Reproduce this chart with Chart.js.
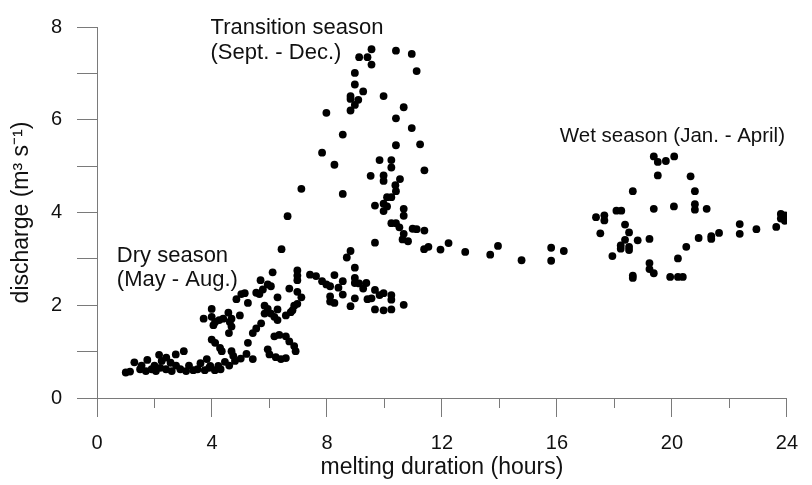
<!DOCTYPE html>
<html>
<head>
<meta charset="utf-8">
<script src="https://cdn.jsdelivr.net/npm/chart.js@4.4.1/dist/chart.umd.min.js"></script>
<style>
  html, body { margin: 0; padding: 0; background: #fff; }
  #box { width: 812px; height: 485px; }
</style>
</head>
<body>
<div id="box"><canvas id="meltChart" width="812" height="485"></canvas></div>
<script>
// Durée de fonte (h) et débit (m3/s)
const dryDuration = [
  1.00, 1.15, 1.30, 1.50, 1.55, 1.70, 1.75, 1.90, 2.00, 2.05, 2.20, 2.25, 2.40, 2.60, 2.75,
  2.90, 3.10, 3.20, 3.35, 3.50, 3.60, 3.75, 3.90, 4.10, 4.30, 4.45, 4.60, 5.00, 5.20,
  3.02, 2.74, 2.16, 2.41, 2.56,
  5.94, 6.05, 5.77, 5.54, 5.65, 6.28, 5.02, 5.14, 4.85, 5.25, 5.83, 5.94, 6.05, 6.28, 6.17,
  6.28, 5.83, 6.57, 6.74, 6.86, 3.71, 3.99, 4.11, 4.25, 4.39, 4.57, 4.68, 4.97, 3.99, 4.62,
  4.68, 4.05, 5.71, 5.54, 5.42, 4.59, 3.99, 4.11, 4.28, 4.34, 5.25, 6.17, 6.34, 6.57, 6.69,
  6.86, 6.91, 5.94, 6.00, 6.22, 6.40, 6.57, 4.68, 4.74, 4.80, 5.42, 3.82, 3.94, 4.22,
  6.11, 5.69, 6.97, 6.97, 6.97, 7.41, 7.62, 8.26, 7.83, 7.98, 8.11, 8.97, 8.97, 8.55, 9.12,
  9.37, 8.40, 9.26, 6.69, 9.67, 6.97, 7.11, 8.55, 8.11, 8.11, 8.26, 8.97, 9.41, 9.55, 9.83,
  9.97, 10.24, 10.24, 10.67, 8.82, 6.97, 9.67, 9.97, 10.24, 6.80
];
const dryDischarge = [
  0.55, 0.57, 0.77, 0.62, 0.70, 0.58, 0.82, 0.62, 0.70, 0.58, 0.65, 0.80, 0.62, 0.58, 0.70,
  0.62, 0.58, 0.70, 0.60, 0.62, 0.75, 0.60, 0.65, 0.60, 0.62, 0.78, 0.70, 0.85, 0.95,
  1.01, 0.94, 0.93, 0.87, 0.76,
  2.45, 2.41, 2.34, 2.27, 2.24, 2.17, 2.24, 2.26, 2.13, 2.05, 1.99, 1.92, 1.82, 1.91, 1.75,
  1.68, 1.82, 1.78, 1.85, 1.99, 1.71, 1.75, 1.64, 1.68, 1.71, 1.84, 1.71, 1.78, 1.92, 1.64,
  1.54, 1.57, 1.61, 1.50, 1.40, 1.40, 1.26, 1.19, 1.08, 1.01, 1.19, 1.33, 1.36, 1.33, 1.22,
  1.12, 1.01, 1.05, 0.94, 0.88, 0.84, 0.86, 1.01, 0.91, 0.80, 0.84, 0.84, 0.69, 0.69,
  2.71, 2.54, 2.75, 2.64, 2.54, 2.66, 2.63, 2.65, 2.52, 2.45, 2.41, 2.59, 2.48, 2.52, 2.47,
  2.48, 2.38, 2.36, 2.36, 2.33, 2.29, 2.17, 2.23, 2.19, 2.08, 2.05, 2.15, 2.13, 2.15, 2.22,
  2.26, 2.22, 2.12, 2.01, 1.98, 2.03, 1.91, 1.89, 1.91, 1.89
];

const transitionDuration = [
  9.55, 10.40, 10.95, 9.12, 9.41, 9.55, 11.12, 8.97, 8.97, 9.26, 8.82, 8.82, 9.09, 9.97, 8.97,
  10.67, 8.82, 7.98, 10.40, 10.95, 8.55, 10.40, 11.24, 7.83, 9.83, 10.24, 10.24, 8.26, 11.39,
  9.52, 9.97, 9.97, 10.54, 10.38, 10.40, 7.11, 8.55, 10.09, 10.24, 9.67, 9.97, 10.09, 9.97,
  10.67, 10.67, 10.24, 10.40, 6.63, 10.52, 10.98, 11.12, 11.39, 10.67, 10.63, 10.82, 9.67,
  11.38, 11.53, 8.82, 8.69, 8.97, 6.42,
  11.95, 12.23, 12.81, 13.68, 13.95, 14.77, 15.80, 15.80, 16.24
];
const transitionDischarge = [
  7.52, 7.49, 7.42, 7.35, 7.35, 7.19, 7.05, 7.01, 6.76, 6.61, 6.51, 6.45, 6.43, 6.51, 6.32,
  6.27, 6.20, 6.15, 6.03, 5.82, 5.68, 5.45, 5.47, 5.29, 5.13, 5.13, 4.97, 5.03, 4.91,
  4.79, 4.80, 4.68, 4.72, 4.59, 4.46, 4.51, 4.40, 4.33, 4.33, 4.15, 4.19, 4.13, 4.03,
  4.08, 3.93, 3.77, 3.77, 3.92, 3.68, 3.65, 3.64, 3.61, 3.54, 3.42, 3.38, 3.35,
  3.21, 3.26, 3.17, 3.03, 2.81, 3.21,
  3.20, 3.34, 3.15, 3.09, 3.28, 2.97, 3.24, 2.96, 3.17
];

const wetDuration = [
  19.37, 19.51, 19.79, 20.08, 19.51, 18.64, 18.07, 18.24, 17.65, 17.65, 17.36, 19.37, 20.07,
  18.37, 18.51, 17.51, 18.37, 18.81, 19.22, 18.22, 18.22, 18.51, 18.51, 17.93, 20.21, 19.22,
  19.22, 19.37, 18.64, 18.64, 19.94, 20.21, 20.38, 20.80, 20.80, 20.80, 21.21, 23.79, 23.93,
  23.79, 23.93, 23.63, 22.36, 22.36, 22.94, 21.64, 21.37, 21.37, 20.93, 20.50, 20.65
];
const wetDischarge = [
  5.21, 5.09, 5.11, 5.21, 4.80, 4.46, 4.04, 4.04, 3.94, 3.83, 3.90, 4.08, 4.13,
  3.74, 3.57, 3.55, 3.41, 3.40, 3.43, 3.29, 3.22, 3.26, 3.19, 3.06, 3.01, 2.91,
  2.78, 2.69, 2.64, 2.59, 2.61, 2.61, 2.61, 4.46, 4.18, 4.06, 4.08, 3.97, 3.94,
  3.87, 3.82, 3.69, 3.75, 3.54, 3.64, 3.56, 3.49, 3.43, 3.45, 3.26, 4.78
];

const xMajorTicks = [0, 4, 8, 12, 16, 20, 24];
const xMinorTicks = [2, 6, 10, 14, 18, 22];
const yTickLabels = [0, 2, 4, 6, 8];

// Etiquettes des saisons (coordonnées en unités des axes)
const seasonNotes = [
  { text: 'Transition season', x: 3.95, y: 7.97, size: 22 },
  { text: '(Sept. - Dec.)', x: 3.95, y: 7.44, size: 22 },
  { text: 'Dry season', x: 0.69, y: 3.07, size: 22 },
  { text: '(May - Aug.)', x: 0.69, y: 2.54, size: 22 },
  { text: 'Wet season (Jan. - April)', x: 16.1, y: 5.64, size: 20.5 }
];

const FONT = '"Liberation Sans", Arial, sans-serif';
const AXIS_COLOR = '#7a7a7a';
const TEXT_COLOR = '#111';

const toPoints = (xs, ys) => xs.map((v, i) => ({ x: v, y: ys[i] }));

const dotStyle = {
  pointRadius: 3.9,
  pointBackgroundColor: '#000',
  pointBorderColor: '#000',
  pointBorderWidth: 0,
  showLine: false
};

const seasonPlugin = {
  id: 'seasonPlugin',
  afterDraw(chart) {
    const { ctx, scales: { x, y } } = chart;
    ctx.save();
    ctx.strokeStyle = AXIS_COLOR;
    ctx.lineWidth = 1;
    // petites graduations de l'axe x
    xMinorTicks.forEach(v => {
      const px = Math.round(x.getPixelForValue(v)) + 0.5;
      ctx.beginPath();
      ctx.moveTo(px, y.bottom);
      ctx.lineTo(px, y.bottom + 10);
      ctx.stroke();
    });

    ctx.fillStyle = TEXT_COLOR;
    ctx.textBaseline = 'middle';
    ctx.textAlign = 'left';
    seasonNotes.forEach(n => {
      ctx.font = n.size + 'px ' + FONT;
      ctx.fillText(n.text, x.getPixelForValue(n.x), y.getPixelForValue(n.y));
    });
    ctx.restore();
  }
};

function dessinerGraphique() {
  const ctx = document.getElementById('meltChart').getContext('2d');
  new Chart(ctx, {
    type: 'scatter',
    data: {
      datasets: [
        { label: 'Dry season', data: toPoints(dryDuration, dryDischarge), ...dotStyle },
        { label: 'Transition season', data: toPoints(transitionDuration, transitionDischarge), ...dotStyle },
        { label: 'Wet season', data: toPoints(wetDuration, wetDischarge), ...dotStyle }
      ]
    },
    options: {
      responsive: false,
      animation: false,
      layout: { padding: { top: 18, right: 16, left: 0, bottom: 0 } },
      plugins: {
        legend: { display: false },
        tooltip: { enabled: false }
      },
      scales: {
        x: {
          type: 'linear',
          min: 0,
          max: 24,
          afterBuildTicks: s => { s.ticks = xMajorTicks.map(v => ({ value: v })); },
          afterFit: s => { s.height = 87; },
          ticks: { color: TEXT_COLOR, font: { family: FONT, size: 20 }, padding: 14, maxRotation: 0 },
          grid: { drawOnChartArea: false, tickLength: 19, color: AXIS_COLOR },
          border: { color: AXIS_COLOR },
          title: {
            display: true,
            text: 'melting duration (hours)',
            color: TEXT_COLOR,
            font: { family: FONT, size: 23 },
            padding: { top: 0, bottom: 4 }
          }
        },
        y: {
          type: 'linear',
          min: 0,
          max: 8,
          ticks: {
            stepSize: 1,
            color: TEXT_COLOR,
            font: { family: FONT, size: 20 },
            padding: 15,
            callback: v => (yTickLabels.includes(v) ? String(v) : '')
          },
          afterFit: s => { s.width = 97; },
          grid: { drawOnChartArea: false, tickLength: 20, color: AXIS_COLOR },
          border: { color: AXIS_COLOR },
          title: {
            display: true,
            text: 'discharge (m³ s⁻¹)',
            color: TEXT_COLOR,
            font: { family: FONT, size: 23 },
            padding: { top: 8, bottom: 0 }
          }
        }
      }
    },
    plugins: [seasonPlugin]
  });
}
document.addEventListener('DOMContentLoaded', dessinerGraphique);
</script>
</body>
</html>
